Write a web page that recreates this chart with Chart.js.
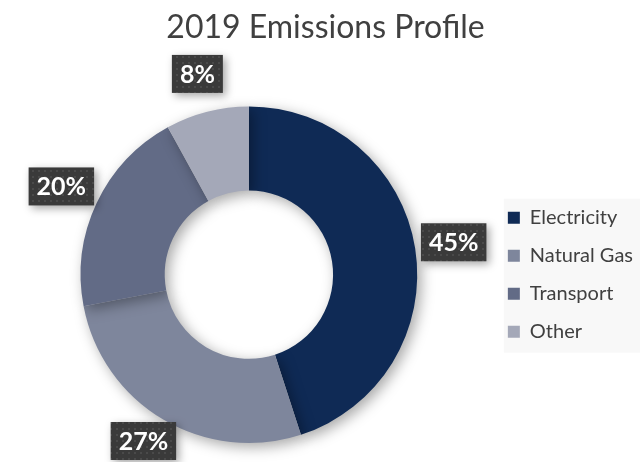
<!DOCTYPE html>
<html>
<head>
<meta charset="utf-8">
<script src="https://cdn.jsdelivr.net/npm/chart.js@4"></script>
<style>
  html, body { margin: 0; padding: 0; background: #fff; }
  #wrap { width: 640px; height: 462px; position: relative; }
</style>
</head>
<body>
<div id="wrap"><canvas id="chart1"></canvas></div>
<script>
//Data
const labels = ['Electricity', 'Natural Gas', 'Transport', 'Other'];
const shares = [45, 27, 20, 8];
const sliceColors = ['#0f2a55', '#7e869c', '#626b86', '#a4a8b8'];

const FONT = 'Lato, "Open Sans", sans-serif';

//dotted dark fill for the data label boxes
function labelPattern(ctx) {
    const p = document.createElement('canvas');
    p.width = 6; p.height = 6;
    const pc = p.getContext('2d');
    pc.fillStyle = '#3a3a3a';
    pc.fillRect(0, 0, 6, 6);
    pc.fillStyle = '#4a4a4a';
    pc.fillRect(2, 2, 2, 2);
    return ctx.createPattern(p, 'repeat');
}

//soft shadow under the ring
const ringShadow = {
    id: 'ringShadow',
    beforeDatasetsDraw(chart) {
        const ctx = chart.ctx;
        ctx.save();
        ctx.shadowColor = 'rgba(0,0,0,0.35)';
        ctx.shadowBlur = 14;
        ctx.shadowOffsetX = 4;
        ctx.shadowOffsetY = 4;
    },
    afterDatasetsDraw(chart) {
        chart.ctx.restore();
    }
};

//grey panel behind the legend
const legendPanel = {
    id: 'legendPanel',
    beforeDraw(chart) {
        const lg = chart.legend;
        const ctx = chart.ctx;
        const first = lg.legendHitBoxes[0];
        const last = lg.legendHitBoxes[lg.legendHitBoxes.length - 1];
        const left = first.left - 4;
        const top = first.top - 9;
        ctx.save();
        ctx.fillStyle = '#f8f8f8';
        ctx.fillRect(left, top, chart.width - left, last.top + last.height + 11 - top);
        ctx.restore();
    }
};

//percentage boxes outside the ring
const outsideLabels = {
    id: 'outsideLabels',
    afterDatasetsDraw(chart) {
        const ctx = chart.ctx;
        const meta = chart.getDatasetMeta(0);
        const total = shares.reduce((a, b) => a + b, 0);
        const fill = labelPattern(ctx);
        ctx.save();
        ctx.font = 'bold 25px ' + FONT;
        ctx.textAlign = 'center';
        ctx.textBaseline = 'middle';
        meta.data.forEach((arc, i) => {
            const mid = (arc.startAngle + arc.endAngle) / 2;
            const r = arc.outerRadius + 39;
            const text = Math.round(shares[i] / total * 100) + '%';
            const w = ctx.measureText(text).width + 16;
            const h = 38;
            let x = arc.x + Math.cos(mid) * r;
            let y = arc.y + Math.sin(mid) * r;
            x = Math.min(Math.max(x, w / 2 + 6), chart.width - w / 2 - 6);
            y = Math.min(Math.max(y, h / 2 + 2), chart.height - h / 2 - 2);
            ctx.save();
            ctx.shadowColor = 'rgba(0,0,0,0.35)';
            ctx.shadowBlur = 8;
            ctx.shadowOffsetX = 3;
            ctx.shadowOffsetY = 3;
            ctx.fillStyle = fill;
            ctx.fillRect(x - w / 2, y - h / 2, w, h);
            ctx.restore();
            ctx.fillStyle = '#ffffff';
            ctx.fillText(text, x, y + 1);
        });
        ctx.restore();
    }
};

const ctx = document.querySelector('#chart1');

const myChart1 = new Chart(ctx, {
    type: 'doughnut',
    data: {
        labels: labels,
        datasets: [{
            data: shares,
            backgroundColor: sliceColors,
            borderWidth: 0
        }]
    },
    options: {
        responsive: true,
        maintainAspectRatio: false,
        animation: false,
        cutout: '50%',
        layout: {
            padding: { top: 0, bottom: 19, left: 8, right: -3 }
        },
        plugins: {
            title: {
                display: true,
                text: '2019 Emissions Profile',
                color: '#404040',
                font: { family: FONT, size: 32, weight: 'normal' },
                padding: { top: 8, bottom: 60 }
            },
            legend: {
                position: 'right',
                fullSize: false,
                labels: {
                    color: '#404040',
                    font: { family: FONT, size: 20 },
                    boxWidth: 12,
                    boxHeight: 12,
                    padding: 18
                }
            },
            tooltip: { enabled: false }
        }
    },
    plugins: [legendPanel, ringShadow, outsideLabels]
});
</script>
</body>
</html>
